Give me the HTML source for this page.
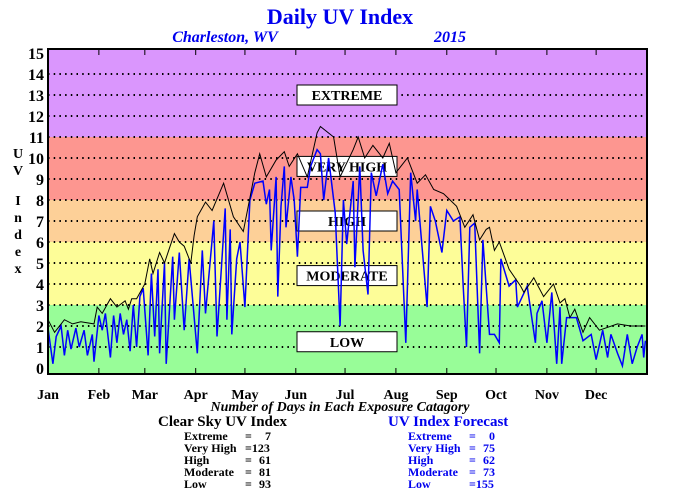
<!DOCTYPE html>
<html><head><meta charset="utf-8"><style>
body{margin:0;background:#fff;}
svg{display:block;font-family:"Liberation Serif",serif;font-weight:bold;}
</style></head><body>
<svg id="chart" width="680" height="500">
<text x="340" y="24" text-anchor="middle" font-size="22" fill="#0000ee">Daily UV Index</text>
<text x="225" y="42" text-anchor="middle" font-size="16" font-style="italic" fill="#0000ee">Charleston, WV</text>
<text x="450" y="42" text-anchor="middle" font-size="16" font-style="italic" fill="#0000ee">2015</text>
<g id="bands"></g>
<g id="grid"></g>
<g id="labels"></g>
<g id="series"></g>
<rect x="48" y="49" width="599" height="325" fill="none" stroke="#000" stroke-width="2"/>
<g id="yaxis"></g>
<g id="xaxis"></g>
<g font-size="14" text-anchor="middle">
<text x="18" y="158">U</text><text x="18" y="175">V</text><text x="18" y="205">I</text><text x="18" y="222">n</text><text x="18" y="239">d</text><text x="18" y="256">e</text><text x="18" y="273">x</text>
</g>
<text x="340" y="411" text-anchor="middle" font-size="14" font-style="italic">Number of Days in Each Exposure Catagory</text>
<g>
<text x="158" y="426" font-size="15">Clear Sky UV Index</text>
<g font-size="12">
<text x="184" y="440">Extreme</text><text x="245" y="440">=</text><text x="271" y="440" text-anchor="end">7</text>
<text x="184" y="452">Very High</text><text x="245" y="452">=123</text>
<text x="184" y="464">High</text><text x="245" y="464">=</text><text x="271" y="464" text-anchor="end">61</text>
<text x="184" y="476">Moderate</text><text x="245" y="476">=</text><text x="271" y="476" text-anchor="end">81</text>
<text x="184" y="488">Low</text><text x="245" y="488">=</text><text x="271" y="488" text-anchor="end">93</text>
</g></g>
<g fill="#0000ee">
<text x="388" y="426" font-size="15">UV Index Forecast</text>
<g font-size="12">
<text x="408" y="440">Extreme</text><text x="469" y="440">=</text><text x="495" y="440" text-anchor="end">0</text>
<text x="408" y="452">Very High</text><text x="469" y="452">=</text><text x="495" y="452" text-anchor="end">75</text>
<text x="408" y="464">High</text><text x="469" y="464">=</text><text x="495" y="464" text-anchor="end">62</text>
<text x="408" y="476">Moderate</text><text x="469" y="476">=</text><text x="495" y="476" text-anchor="end">73</text>
<text x="408" y="488">Low</text><text x="469" y="488">=155</text>
</g></g>
</svg>
<script>
const months=["Jan","Feb","Mar","Apr","May","Jun","Jul","Aug","Sep","Oct","Nov","Dec"];
const monthStartDays=[0,31,59,90,120,151,181,212,243,273,304,334];
const yTicks=[0,1,2,3,4,5,6,7,8,9,10,11,12,13,14,15];
const bandLows=[0,3,6,8,11];
const bandHighs=[3,6,8,11,15];
const bandColors=["#98fd98","#fdfd98","#fdd098","#fd9690","#da96fd"];
const bandNames=["LOW","MODERATE","HIGH","VERY HIGH","EXTREME"];
const bandLabelValues=[1.25,4.4,7.0,9.6,13.0];
const clearDays=[0,4,10,15,20,28,30,33,38,42,47,49,51,54,59,62,64,68,71,74,77,80,83,87,89,91,96,100,107,113,119,123,126,129,133,139,144,147,152,158,164,166,174,178,186,189,193,198,204,208,212,219,225,230,235,241,245,249,254,259,263,267,269,272,275,281,288,290,296,298,302,308,312,315,318,321,326,330,336,347,355,364];
const clearVals=[2.3,1.7,2.3,2.1,2.2,2.1,2.9,2.6,3.3,2.9,3.2,2.8,3.3,3.3,4.0,5.2,4.5,5.5,5.0,5.7,6.4,6.0,5.8,5.0,6.3,7.2,7.9,7.5,8.8,7.2,6.5,8.1,9.3,10.2,9.1,9.9,10.3,9.6,10.2,9.1,11.2,11.5,11.0,9.1,10.4,11.0,10.0,10.6,10.0,10.7,9.3,10.0,8.8,9.2,8.5,8.3,8.0,7.7,6.7,7.3,6.1,6.6,6.7,5.6,6.0,4.7,3.9,3.6,4.3,4.0,3.4,4.0,3.1,3.3,2.4,2.8,1.7,2.4,1.8,2.1,2.0,2.0];
const fcDays=[0,3,5,8,10,12,14,17,19,22,24,27,28,31,33,35,38,40,42,44,46,48,50,52,54,56,58,61,63,65,67,68,71,72,76,77,80,83,86,91,94,96,101,103,108,109,111,112,115,117,120,123,126,131,133,135,136,139,140,142,144,145,148,150,152,154,158,160,164,166,168,171,175,178,180,182,186,187,190,192,195,197,200,204,207,210,214,218,221,224,225,231,233,236,240,243,247,251,253,255,257,260,263,265,269,272,275,276,281,285,286,289,292,297,298,301,304,307,310,312,313,316,322,326,331,334,338,341,343,347,350,353,356,359,362,363,364];
const fcVals=[1.9,0.2,1.5,2.0,0.6,1.8,0.9,1.9,1.0,1.8,0.6,1.6,0.3,2.5,1.8,2.6,0.5,2.5,1.2,2.6,1.6,2.3,0.8,3.0,1.0,3.4,3.8,0.6,4.5,1.5,4.7,0.7,5.0,0.2,5.3,2.3,5.5,1.8,5.2,0.7,5.6,2.6,7.0,1.5,7.6,2.3,6.6,1.6,5.2,6.0,2.9,8.0,8.8,8.9,7.8,8.5,5.6,9.1,3.4,7.7,9.6,6.7,9.1,8.0,5.3,8.6,8.6,9.6,10.4,10.2,8.0,10.0,7.4,2.0,8.0,5.9,8.9,4.8,9.6,5.6,3.5,9.3,8.2,9.7,8.3,8.9,8.5,1.2,9.3,7.0,8.5,2.9,7.7,7.0,5.5,7.5,7.0,7.2,3.9,1.0,6.7,6.9,0.7,6.1,1.6,1.6,1.2,5.2,3.9,4.2,2.9,3.4,3.9,1.2,2.6,3.2,1.2,3.6,0.2,2.9,0.2,2.4,2.4,1.3,1.6,0.4,1.8,0.5,1.6,0.7,0.1,1.6,0.2,1.0,1.6,0.5,1.3];

const NS="http://www.w3.org/2000/svg";
const L=48,R=647,T=49,B=374;
function xs(d){return L+d*(R-L)/365;}
function ys(v){return 368-v*21;}
function mk(tag,attrs,parent){const e=document.createElementNS(NS,tag);for(const k in attrs)e.setAttribute(k,attrs[k]);parent.appendChild(e);return e;}
const bands=document.getElementById('bands');
for(let i=0;i<bandLows.length;i++){
  const top=i===bandLows.length-1?T:ys(bandHighs[i]);
  const bot=i===0?B:ys(bandLows[i]);
  const r=mk('rect',{x:L,y:top,width:R-L,height:bot-top,fill:bandColors[i]},bands);
  
  
}
const grid=document.getElementById('grid');
yTicks.forEach(v=>{if(v===0||v===15)return;
  const l=mk('line',{x1:L,x2:R,y1:ys(v),y2:ys(v),stroke:'#000','stroke-width':2,'stroke-dasharray':'1.5 4.2'},grid);
  
  
});
const labels=document.getElementById('labels');
bandNames.forEach((n,i)=>{
  const cy=ys(bandLabelValues[i]);
  const g=mk('g',{},labels);
  
  
  mk('rect',{x:297,y:cy-10,width:100,height:20,fill:'#fff',stroke:'#000','stroke-width':1},g);
  const t=mk('text',{x:347,y:cy+5,'text-anchor':'middle','font-size':14},g);t.textContent=n;
});
const series=document.getElementById('series');
function line(days,vals,color,name){
  const p=days.map((d,i)=>xs(d).toFixed(1)+','+ys(vals[i]).toFixed(1)).join(' ');
  const pl=mk('polyline',{points:p,fill:'none',stroke:color,'stroke-width':color==='#000'?1:1.5},series);
  
  
}
line(fcDays,fcVals,'#0000ff','forecast-uv-line');
line(clearDays,clearVals,'#000','clear-sky-uv-line');
const yaxis=document.getElementById('yaxis');
yTicks.forEach(v=>{
  const t=mk('text',{x:44,y:ys(v)+6,'text-anchor':'end','font-size':16},yaxis);
  t.textContent=v;
  
  
});
const xaxis=document.getElementById('xaxis');
months.forEach((m,i)=>{
  const x=xs(monthStartDays[i]);
  if(i>0){mk('line',{x1:x,x2:x,y1:T,y2:T+6,stroke:'#000','stroke-width':1},xaxis);
  mk('line',{x1:x,x2:x,y1:B-6,y2:B,stroke:'#000','stroke-width':1},xaxis);}
  const t=mk('text',{x:x,y:399,'text-anchor':'middle','font-size':14},xaxis);
  t.textContent=m;
  
  
});
</script>
</body></html>
